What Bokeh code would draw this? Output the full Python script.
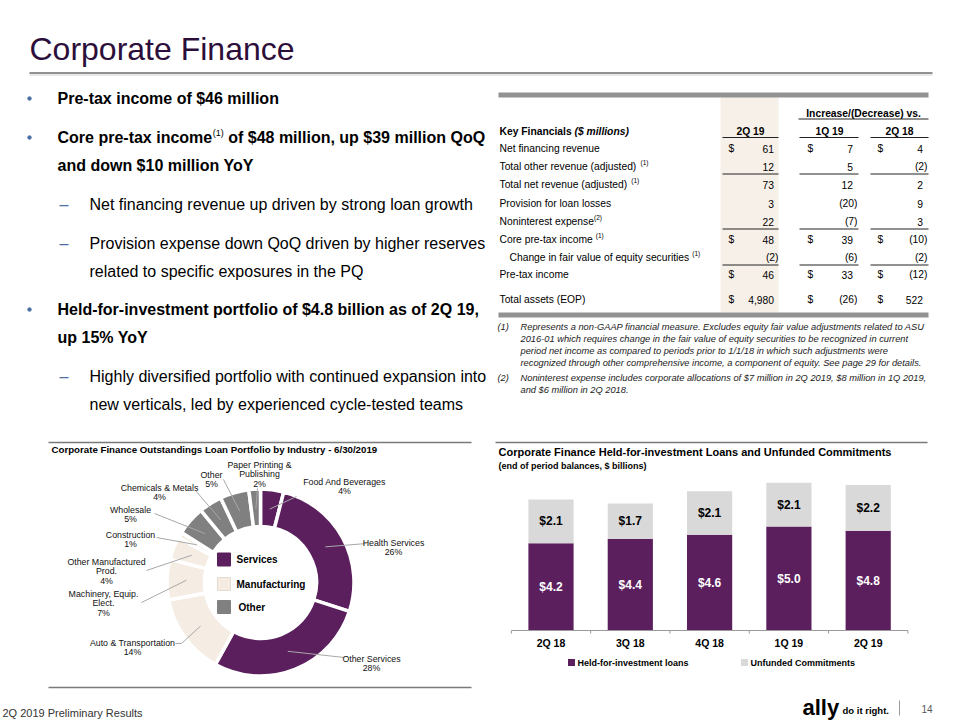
import math
from bokeh.plotting import figure
from bokeh.models import Range1d, ColumnDataSource
from bokeh.embed import file_html
from bokeh.resources import INLINE
from bokeh.core.properties import value

FONT = "Liberation Sans"

# ---------------- DATA ----------------
slide_title = "Corporate Finance"

table_labels = ["Net financing revenue", "Total other revenue (adjusted)", "Total net revenue (adjusted)",
                "Provision for loan losses", "Noninterest expense", "Core pre-tax income",
                "Change in fair value of equity securities", "Pre-tax income", "Total assets (EOP)"]
table_notes = ["", "(1)", "(1)", "", "(2)", "(1)", "(1)", "", ""]
q2_19 = [61, 12, 73, 3, 22, 48, -2, 46, 4980]
vs_1q19 = [7, 5, 12, -20, -7, 39, -6, 33, -26]
vs_2q18 = [4, -2, 2, 9, 3, -10, -2, -12, 522]
dollar_rows = [0, 5, 7, 8]
table_cols = ["2Q 19", "1Q 19", "2Q 18"]

industries = ["Food And Beverages", "Health Services", "Other Services", "Auto & Transportation",
              "Machinery, Equip. Elect.", "Other Manufactured Prod.", "Construction", "Wholesale",
              "Chemicals & Metals", "Other", "Paper Printing & Publishing"]
industry_pct = [4, 26, 28, 14, 7, 4, 1, 5, 4, 5, 2]
industry_group = ["Services", "Services", "Services", "Manufacturing", "Manufacturing", "Manufacturing",
                  "Manufacturing", "Other", "Other", "Other", "Other"]
groups = ["Services", "Manufacturing", "Other"]

quarters = ["2Q 18", "3Q 18", "4Q 18", "1Q 19", "2Q 19"]
hfi_loans = [4.2, 4.4, 4.6, 5.0, 4.8]
unfunded = [2.1, 1.7, 2.1, 2.1, 2.2]
bar_series = ["Held-for-investment loans", "Unfunded Commitments"]

# ---------------- STYLE ----------------
PURPLE = "#5b1f5e"
CREAM = "#f5ede4"
DGRAY = "#808080"
LGRAY = "#d9d9d9"
TITLE_C = "#2c0e3a"
BLUE = "#4a6fa5"
group_color = {"Services": PURPLE, "Manufacturing": CREAM, "Other": DGRAY}

REG = {}
for chars, w in [("ijl", 222), (" !,./:;ftI", 278), ("()-r", 333), ("cksvxyzJ", 500),
                 ("abdeghnopqu0123456789$L", 556), ("FTZ", 611), ("ABEKPSVXY&", 667),
                 ("CDHNRUw", 722), ("GOQ", 778), ("mM", 833), ("%", 889), ("W", 944)]:
    for c in chars:
        REG[c] = w
BOLD = {}
for chars, w in [(" !,./:;iljI", 278), ("()-tf", 333), ("r", 389), ("z", 500),
                 ("acesvxykJ0123456789$", 556), ("bdghnopquFTLZ", 611), ("EPSVXY", 667),
                 ("ABCDHKNRU&", 722), ("GOQw", 778), ("M", 833), ("m%", 889), ("W", 944)]:
    for c in chars:
        BOLD[c] = w


def tw(s, size, bold=False):
    t = BOLD if bold else REG
    return sum(t.get(c, 556) for c in s) * size / 1000.0


W, H = 960, 720
p = figure(width=W, height=H, x_range=Range1d(0, W), y_range=Range1d(H, 0), toolbar_location=None,
           output_backend="svg", min_border=0, outline_line_color=None,
           x_axis_location=None, y_axis_location=None)
p.grid.visible = False

# bar chart scales (page layout of the plot area)
BAR_X0, BAR_STEP = 550.5, 79.3      # page x of first bar centre, px per category
BASE_Y, PX_PER_B = 630.0, 20.8      # page y of zero line, px per $1B
p.extra_x_ranges["bx"] = Range1d(-BAR_X0 / BAR_STEP, (W - BAR_X0) / BAR_STEP)
p.extra_y_ranges["by"] = Range1d(-(H - BASE_Y) / PX_PER_B, BASE_Y / PX_PER_B)
# donut scales (centre of donut at page 260, 582; y up)
CX, CY = 260, 582
p.extra_x_ranges["dx"] = Range1d(-CX, W - CX)
p.extra_y_ranges["dy"] = Range1d(CY - H, CY)


def put(xs, ys, texts, size, color="black", style="normal", align="left", **kw):
    p.text(x=xs, y=ys, text=texts, text_font=value(FONT), text_font_size=f"{size}px",
           text_color=color, text_font_style=style, text_align=align, text_baseline="middle", **kw)


def seg(x0, y0, x1, y1, color, width, **kw):
    p.segment(x0=x0, y0=y0, x1=x1, y1=y1, line_color=color, line_width=width, **kw)

# ================= TITLE & BULLETS =================
put([29], [48], [slide_title], 32, TITLE_C)
seg([29], [72.5], [932], [72.5], "#6e6e6e", 1.5)
seg([29], [74.5], [932], [74.5], "#d0d0d0", 1)

p.scatter(x=[29, 29, 29], y=[98, 137, 309], size=3.5, color=BLUE, marker="circle")
put([57], [98], ["Pre-tax income of $46 million"], 16, style="bold")
x_sup = 57 + tw("Core pre-tax income", 16, True)
put([57], [137], ["Core pre-tax income"], 16, style="bold")
put([x_sup + 0.5], [132], ["(1)"], 9)
put([x_sup + tw("(1)", 9) + 5], [137], ["of $48 million, up $39 million QoQ"], 16, style="bold")
put([57], [165], ["and down $10 million YoY"], 16, style="bold")
put([59, 59, 59], [204, 243, 376], ["\u2013", "\u2013", "\u2013"], 16, BLUE)
put([89, 89, 89], [204, 243, 271],
    ["Net financing revenue up driven by strong loan growth",
     "Provision expense down QoQ driven by higher reserves",
     "related to specific exposures in the PQ"], 16)
put([57, 57], [309, 337], ["Held-for-investment portfolio of $4.8 billion as of 2Q 19,", "up 15% YoY"],
    16, style="bold")
put([89, 89], [376, 404], ["Highly diversified portfolio with continued expansion into",
                           "new verticals, led by experienced cycle-tested teams"], 16)

# ================= TABLE =================
TS = 10.3
p.quad(left=[720], right=[778], top=[97], bottom=[312], fill_color="#f7f0e9", line_color=None)
seg([498, 498], [94.5, 314.5], [928, 928], [94.5, 314.5], "#929292", 5)
put([863], [113], ["Increase/(Decrease) vs."], TS, style="bold", align="center")
seg([798], [118.5], [928], [118.5], "#222222", 1)
put([499], [131], ["Key Financials "], TS, style="bold")
put([499 + tw("Key Financials ", TS, True)], [131], ["($ millions)"], TS, style="bold italic")
col_center = [750, 829, 899]
col_dollar = [728, 807, 877]
col_right = [778, 857, 927]
col_line = [(722, 778), (799, 858), (870, 928)]
put(col_center, [131] * 3, table_cols, TS, style="bold", align="center")
row_y = [148, 166, 184, 203, 221, 239, 257, 274, 299]
lx0 = [a for a, b in col_line]
lx1 = [b for a, b in col_line]
seg(lx0, [137] * 3, lx1, [137] * 3, "#222222", 1)
for ri in (1, 4, 6):
    yy = row_y[ri] + 7.5
    seg(lx0, [yy] * 3, lx1, [yy] * 3, "#222222", 1)

for i, lab in enumerate(table_labels):
    x0 = 509 if i == 6 else 499
    put([x0], [row_y[i]], [lab], TS)
    if table_notes[i]:
        gap = 0 if i == 4 else 3
        put([x0 + tw(lab, TS) + gap], [row_y[i] - 4], [table_notes[i]], 6.5)
    for c, vals in enumerate([q2_19, vs_1q19, vs_2q18]):
        v = vals[i]
        if v < 0:
            put([col_right[c]], [row_y[i]], [f"({abs(v):,})"], TS, align="right")
        else:
            put([col_right[c] - 4.5], [row_y[i]], [f"{v:,}"], TS, align="right")
        if i in dollar_rows:
            put([col_dollar[c]], [row_y[i]], ["$"], TS)

FN = 9.3
put([497, 497], [326, 377], ["(1)", "(2)"], FN, "#222222", style="italic")
put([520] * 6, [326, 338, 350, 362, 377, 389],
    ["Represents a non-GAAP financial measure. Excludes equity fair value adjustments related to ASU",
     "2016-01 which requires change in the fair value of equity securities to be recognized in current",
     "period net income as compared to periods prior to 1/1/18 in which such adjustments were",
     "recognized through other comprehensive income, a component of equity. See page 29 for details.",
     "Noninterest expense includes corporate allocations of $7 million in 2Q 2019, $8 million in 1Q 2019,",
     "and $6 million in 2Q 2018."], FN, "#222222", style="italic")

# ================= DONUT =================
put([51], [449], ["Corporate Finance Outstandings Loan Portfolio by Industry - 6/30/2019"], 9.7, style="bold")
seg([48, 48], [442, 687], [471, 471], [442, 687], "#7a7a7a", 1.5)

cum = [0]
for v in industry_pct:
    cum.append(cum[-1] + v)
tot = float(cum[-1])
starts = [math.pi / 2 - 2 * math.pi * cum[i] / tot for i in range(len(industry_pct))]
ends = [math.pi / 2 - 2 * math.pi * cum[i + 1] / tot for i in range(len(industry_pct))]
mids = [(s + e) / 2 for s, e in zip(starts, ends)]
wsrc = ColumnDataSource(dict(s=starts, e=ends, c=[group_color[g] for g in industry_group]))
p.annular_wedge(x=0, y=0, inner_radius=56, outer_radius=93.5, start_angle="s", end_angle="e",
                direction="clock", fill_color="c", line_color="white", line_width=3.5, source=wsrc,
                x_range_name="dx", y_range_name="dy")

# label layout (page pixels): lines, centre x, first-line y, leader end points
pie_label_layout = [
    (["Food And Beverages", "4%"], 344, 481, [(296, 496)]),
    (["Health Services", "26%"], 393, 542, [(366, 543)]),
    (["Other Services", "28%"], 371, 658, [(344, 657)]),
    (["Auto & Transportation", "14%"], 132, 642, [(181, 643), (175, 643)]),
    (["Machinery, Equip.", "Elect.", "7%"], 103, 593, [(141, 602)]),
    (["Other Manufactured", "Prod.", "4%"], 106, 561, [(146, 570)]),
    (["Construction", "1%"], 130, 534, [(156, 537)]),
    (["Wholesale", "5%"], 130, 509, [(154, 513)]),
    (["Chemicals & Metals", "4%"], 159, 487, [(195, 490)]),
    (["Other", "5%"], 211, 474, [(223, 479)]),
    (["Paper Printing &", "Publishing", "2%"], 259, 464, [(257, 488)]),
]
lxs, lys, ltx, lty, ltt = [], [], [], [], []
for (lines, cxp, y0, pts), m in zip(pie_label_layout, mids):
    r = 74
    lxs.append([CX + r * math.cos(m)] + [px for px, py in pts])
    lys.append([CY - r * math.sin(m)] + [py for px, py in pts])
    for k, t in enumerate(lines):
        ltx.append(cxp)
        lty.append(y0 + 9.5 * k)
        ltt.append(t)
p.multi_line(xs=lxs, ys=lys, line_color="#a8a8a8", line_width=1)
put(ltx, lty, ltt, 8.8, "#111111", align="center")

leg_y = [559, 583.5, 606.5]
p.rect(x=[223.5] * 3, y=leg_y, width=13, height=13,
       fill_color=[group_color[g] for g in groups], line_color=[PURPLE, "#e6dbcf", DGRAY], line_width=1)
put([236, 236, 238], leg_y, groups, 10, style="bold")

# ================= BAR CHART =================
idx = list(range(len(quarters)))
src = ColumnDataSource(dict(
    i=idx, hfi=hfi_loans, unf=unfunded,
    hfi_lbl=[f"${v:.1f}" for v in hfi_loans], unf_lbl=[f"${v:.1f}" for v in unfunded],
    hfi_mid=[v / 2 for v in hfi_loans], unf_mid=[h + u / 2 for h, u in zip(hfi_loans, unfunded)]))

put([498], [451], ["Corporate Finance Held-for-investment Loans and Unfunded Commitments"], 11, style="bold")
put([498], [465], ["(end of period balances, $ billions)"], 9, style="bold")
seg([495], [442], [927], [442], "#7a7a7a", 1.5)

p.vbar_stack(["hfi", "unf"], x="i", width=0.57, fill_color=[PURPLE, LGRAY], line_color=None, source=src,
             x_range_name="bx", y_range_name="by")
p.text(x="i", y="hfi_mid", text="hfi_lbl", source=src, text_color="white", text_font_style="bold",
       text_font_size="12px", text_align="center", text_baseline="middle", text_font=value(FONT),
       x_range_name="bx", y_range_name="by")
p.text(x="i", y="unf_mid", text="unf_lbl", source=src, text_color="black", text_font_style="bold",
       text_font_size="12px", text_align="center", text_baseline="middle", text_font=value(FONT),
       x_range_name="bx", y_range_name="by")

# category axis: baseline, boundary ticks and labels
n = len(quarters)
seg([-0.5], [0], [n - 0.5], [0], "#9a9a9a", 1, x_range_name="bx", y_range_name="by")
bnd = [k - 0.5 for k in range(n + 1)]
seg(bnd, [0] * (n + 1), bnd, [-0.15] * (n + 1), "#9a9a9a", 1, x_range_name="bx", y_range_name="by")
p.text(x=idx, y=[642] * n, text=quarters, text_font=value(FONT), text_font_size="10.5px",
       text_font_style="bold", text_align="center", text_baseline="middle", x_range_name="bx")

# legend
p.rect(x=[571, 744], y=[662, 662], width=7, height=7, fill_color=[PURPLE, LGRAY], line_color=None)
put([577, 750], [662, 662], bar_series, 9, style="bold")

# ================= FOOTER =================
put([2], [712], ["2Q 2019 Preliminary Results"], 11, "#333333")
put([802], [707], ["ally"], 22, "black", style="bold")
put([842], [710], ["do it right."], 9.5, "black", style="bold")
seg([899], [700], [899], [715], "#9a9a9a", 1)
put([921], [708], ["14"], 10, "#555555")

open("out.html", "w").write(file_html(p, INLINE))
